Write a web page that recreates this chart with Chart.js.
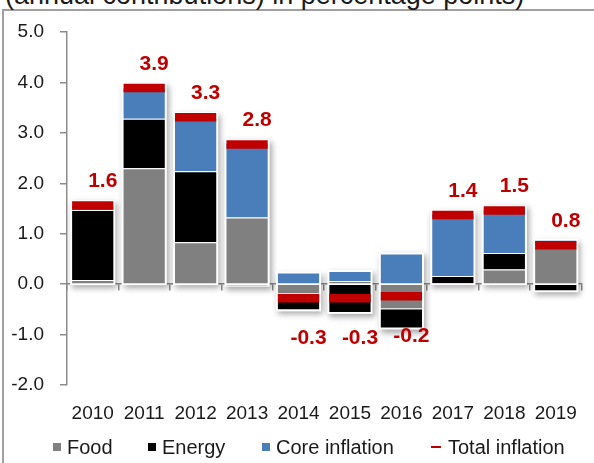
<!DOCTYPE html>
<html><head><meta charset="utf-8">
<script src="https://cdn.jsdelivr.net/npm/chart.js@4.4.1/dist/chart.umd.min.js"></script>
<style>
html,body{margin:0;padding:0;background:#fff;}
#wrap{position:relative;width:594px;height:463px;overflow:hidden;}
#frame{position:absolute;left:2px;top:9px;width:700px;height:600px;border-left:2px solid #a0a0a0;border-top:2px solid #a0a0a0;}
#title{position:absolute;left:5px;top:-21px;line-height:33px;white-space:nowrap;color:#1a1a1a;}
canvas{position:absolute;left:0;top:0;}
#legend{position:absolute;left:0;top:0;width:594px;height:463px;pointer-events:none;}
.li{position:absolute;top:434px;height:26px;line-height:26px;color:#1a1a1a;white-space:nowrap;}
.sw{position:absolute;}
</style></head><body>
<div id="wrap">
<div id="frame"></div>
<div id="title">(annual contributions) in percentage points)</div>
<canvas id="c" width="594" height="463"></canvas>
<div id="legend"></div>
</div>
<script>
// ---- data ----
const years = ['2010','2011','2012','2013','2014','2015','2016','2017','2018','2019'];
const seriesNames = ['Food','Energy','Core inflation','Total inflation'];
const food   = [0.08, 2.30, 0.83, 1.32, -0.20, 0.06, -0.50, 0.02, 0.29, 0.75];
const energy = [1.39, 0.98, 1.41, -0.03, -0.32, -0.57, -0.38, 0.14, 0.33, -0.14];
const core   = [0.10, 0.62, 1.06, 1.48, 0.23, 0.20, 0.61, 1.24, 0.87, 0.13];
const total  = [1.56, 3.89, 3.31, 2.77, -0.28, -0.28, -0.24, 1.37, 1.46, 0.77];
const yTicks = [-2, -1, 0, 1, 2, 3, 4, 5];

// ---- styles ----
const COLORS = ['#808080', '#000000', '#4a7ebb', '#c00000'];
const AXIS = '#8c8c8c';
const TEXT = '#1a1a1a';
const MARK_W = 8.5;
const FAM = '"Liberation Sans", Arial, sans-serif';

const titleEl = document.getElementById('title');
titleEl.style.fontFamily = FAM;
titleEl.style.fontSize = '27px';

const stackFrame = {
  id: 'stackFrame',
  beforeDatasetsDraw(chart){
    const {ctx, scales: {y}} = chart;
    const m0 = chart.getDatasetMeta(0), ml = chart.getDatasetMeta(3);
    ctx.save();
    ctx.shadowColor = 'rgba(0,0,0,0.35)';
    ctx.shadowBlur = 6; ctx.shadowOffsetX = 2; ctx.shadowOffsetY = 3;
    ctx.fillStyle = '#ffffff';
    for (let i = 0; i < years.length; i++){
      let pos = 0, neg = 0;
      [food, energy, core].forEach(a => { if (a[i] >= 0) pos += a[i]; else neg += a[i]; });
      const bar = m0.data[i], pt = ml.data[i];
      const half = bar.width / 2;
      const top = Math.min(y.getPixelForValue(pos), pt.y - MARK_W/2);
      const bot = Math.max(y.getPixelForValue(neg), pt.y + MARK_W/2);
      ctx.fillRect(bar.x - half - 1, top - 1, 2*half + 2, bot - top + 2);
    }
    ctx.restore();
  }
};

const totalLabels = {
  id: 'totalLabels',
  afterDatasetsDraw(chart){
    const {ctx} = chart;
    const ml = chart.getDatasetMeta(3);
    ctx.save();
    ctx.font = 'bold 21px "Liberation Sans", sans-serif';
    ctx.fillStyle = COLORS[3];
    ctx.textAlign = 'center';
    ctx.textBaseline = 'middle';
    ml.data.forEach((pt, i) => {
      const v = total[i];
      const yy = v >= 0 ? pt.y - 24 : pt.y + 40;
      ctx.fillText(v.toFixed(1), pt.x + 10, yy);
    });
    ctx.restore();
  }
};

function barHalf(c){
  const xs = c.chart.scales.x;
  return xs ? (xs.width / years.length) * 0.84 / 2 - 1 : 21;
}

const barBase = {type: 'bar', xAxisID: 'x', yAxisID: 'y', borderColor: '#ffffff', borderWidth: 1, order: 1};

const chart = new Chart(document.getElementById('c'), {
  type: 'bar',
  data: {
    labels: years,
    datasets: [
      Object.assign({label: seriesNames[0], data: food, backgroundColor: COLORS[0]}, barBase),
      Object.assign({label: seriesNames[1], data: energy, backgroundColor: COLORS[1]}, barBase),
      Object.assign({label: seriesNames[2], data: core, backgroundColor: COLORS[2]}, barBase),
      {type: 'line', label: seriesNames[3], data: total, xAxisID: 'x', yAxisID: 'y', showLine: false,
       pointStyle: 'line', borderColor: COLORS[3], backgroundColor: COLORS[3],
       pointBorderColor: COLORS[3], pointBorderWidth: MARK_W, pointRadius: barHalf, pointHoverRadius: barHalf,
       order: 0}
    ]
  },
  options: {
    responsive: false,
    animation: false,
    events: [],
    datasets: {bar: {categoryPercentage: 1, barPercentage: 0.84}},
    layout: {padding: {top: 32, right: 2, bottom: 34, left: 0}},
    plugins: {legend: {display: false}, tooltip: {enabled: false}, title: {display: false}},
    scales: {
      x: {type: 'category', axis: 'x', stacked: true, offset: true, position: 'bottom',
          grid: {display: false, drawTicks: false}, border: {display: false},
          ticks: {font: {family: FAM, size: 19}, color: TEXT, padding: 17, maxRotation: 0, autoSkip: false},
          afterFit: s => { s.height = 44; }},
      x2: {type: 'category', axis: 'x', position: {y: 0}, offset: true,
          grid: {offset: true, drawOnChartArea: false, drawTicks: true, tickLength: 6, color: AXIS, lineWidth: 1.5},
          border: {display: true, color: AXIS, width: 1.5},
          ticks: {display: false}},
      y: {stacked: true, min: yTicks[0], max: yTicks[yTicks.length - 1], position: 'left',
          afterBuildTicks: s => { s.ticks = yTicks.map(v => ({value: v})); },
          ticks: {callback: v => Number(v).toFixed(1), font: {family: FAM, size: 19}, color: TEXT, padding: 16},
          grid: {drawOnChartArea: false, drawTicks: true, tickLength: 7, color: AXIS, lineWidth: 1.5},
          border: {display: true, color: AXIS, width: 1.5},
          afterFit: s => { s.width = 67; }}
    }
  },
  plugins: [stackFrame, totalLabels]
});

// ---- HTML legend built from the chart's datasets ----
const LEG_X = [53, 148, 262, 431];
const legend = document.getElementById('legend');
chart.data.datasets.forEach((ds, i) => {
  const isLine = ds.type === 'line';
  const sw = document.createElement('div');
  sw.className = 'sw';
  sw.style.left = LEG_X[i] + 'px';
  sw.style.background = ds.backgroundColor;
  if (isLine) { sw.style.top = '446px'; sw.style.width = '10px'; sw.style.height = '2px'; }
  else { sw.style.top = '443px'; sw.style.width = '8px'; sw.style.height = '8px'; }
  legend.appendChild(sw);
  const t = document.createElement('div');
  t.className = 'li';
  t.style.left = (LEG_X[i] + (isLine ? 17 : 14)) + 'px';
  t.style.fontFamily = FAM;
  t.style.fontSize = '20px';
  t.textContent = ds.label;
  legend.appendChild(t);
});
</script>
</body></html>
